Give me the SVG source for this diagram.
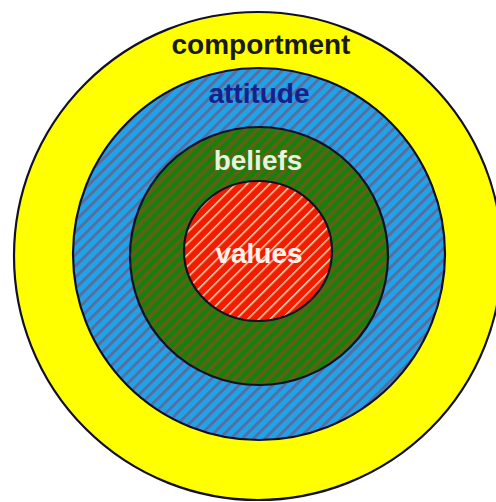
<svg xmlns="http://www.w3.org/2000/svg" width="496" height="502" viewBox="0 0 496 502">
  <defs>
    <pattern id="hatchBlue" patternUnits="userSpaceOnUse" width="8" height="8" patternTransform="rotate(45)">
      <rect width="8" height="8" fill="#1fa3e8"/>
      <rect width="2.8" height="8" fill="#5d6a9c"/>
    </pattern>
    <pattern id="hatchGreen" patternUnits="userSpaceOnUse" width="8" height="8" patternTransform="rotate(45)">
      <rect width="8" height="8" fill="#17800d"/>
      <rect width="3.2" height="8" fill="#6a5c14"/>
    </pattern>
    <pattern id="hatchRed" patternUnits="userSpaceOnUse" width="8" height="8" patternTransform="rotate(45)">
      <rect width="8" height="8" fill="#f21c00"/>
      <rect width="1.5" height="8" fill="#ffd8b0"/>
    </pattern>
  </defs>
  <style>
    .ring { stroke: #10102a; stroke-width: 2.2; }
    .lbl { font-family: "Liberation Sans", Arial, sans-serif; font-weight: bold; font-size: 28px; text-anchor: middle; }
  </style>
  <rect width="496" height="502" fill="#ffffff"/>
  <g id="comportment">
    <circle class="ring" cx="258" cy="256" r="244" fill="#ffff00"/>
    <text class="lbl" x="261" y="54" fill="#1a1a1a">comportment</text>
  </g>
  <g id="attitude">
    <circle class="ring" cx="259" cy="254" r="186" fill="url(#hatchBlue)"/>
    <text class="lbl" x="259" y="103" fill="#14208c">attitude</text>
  </g>
  <g id="beliefs">
    <circle class="ring" cx="259" cy="256" r="129" fill="url(#hatchGreen)"/>
    <text class="lbl" x="258" y="170" fill="#e6f4dc">beliefs</text>
  </g>
  <g id="values">
    <ellipse class="ring" cx="258" cy="251" rx="74" ry="70" fill="url(#hatchRed)"/>
    <text class="lbl" x="259" y="263" fill="#fff2ea">values</text>
  </g>
  <g id="connectors"/>
</svg>
